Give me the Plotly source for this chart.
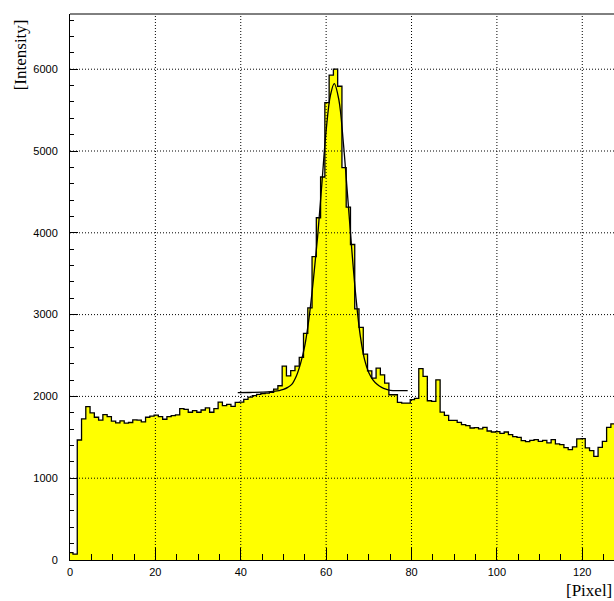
import numpy as np
import plotly.graph_objects as go

# ---- data ----
bin_first_edge = -0.3
bin_width = 1.0
counts = [
    89, 73, 1467, 1725, 1875, 1798, 1745, 1709, 1778, 1754,
    1697, 1677, 1701, 1673, 1681, 1713, 1709, 1689, 1745, 1758,
    1770, 1754, 1721, 1754, 1766, 1774, 1851, 1842, 1806, 1826,
    1806, 1834, 1859, 1806, 1851, 1931, 1887, 1903, 1879, 1927,
    1931, 1964, 1990, 2010, 2025, 2035, 2040, 2050, 2090, 2130,
    2370, 2250, 2315, 2370, 2478, 2771, 3082, 3710, 4184, 4682,
    5592, 5927, 6000, 5792, 4796, 4314, 3857, 3069, 2845, 2518,
    2313, 2224, 2345, 2264, 2163, 2020, 2020, 1927, 1919, 1919,
    1960, 1975, 2340, 2244, 1947, 1940, 2203, 1809, 1768, 1707,
    1707, 1683, 1654, 1642, 1614, 1618, 1602, 1622, 1577, 1565,
    1569, 1549, 1565, 1532, 1508, 1500, 1459, 1447, 1463, 1471,
    1451, 1463, 1431, 1471, 1419, 1410, 1374, 1350, 1382, 1480,
    1484, 1370, 1337, 1268, 1378, 1451, 1622, 1663,
]

fit_x = [39.3, 42, 45, 47, 49, 50, 51, 52, 53, 54, 55, 56, 57, 58, 59, 60, 61,
         61.9, 63, 64, 65, 66, 67, 68, 69, 70, 71, 72, 73, 74, 75, 77, 79.1]
fit_y = [2045, 2048, 2052, 2058, 2072, 2085, 2110, 2150, 2245, 2400, 2620, 2960,
         3420, 3950, 4600, 5250, 5680, 5825, 5620, 5120, 4470, 3800, 3200, 2740,
         2450, 2290, 2200, 2145, 2110, 2088, 2075, 2070, 2070]

x_ticks = [0, 20, 40, 60, 80, 100, 120]
y_ticks = [0, 1000, 2000, 3000, 4000, 5000, 6000]
x_title = "[Pixel]"
y_title = "[Intensity]"

# ---- build step outline ----
edges = bin_first_edge + bin_width * np.arange(len(counts) + 1)
step_x = list(edges)
step_y = list(counts) + [counts[-1]]

fig = go.Figure()
fig.add_trace(go.Scatter(
    x=step_x, y=step_y, mode="lines", line_shape="hv",
    line=dict(color="black", width=1.3),
    fill="tozeroy", fillcolor="#ffff00", hoverinfo="skip", showlegend=False,
))
fig.add_trace(go.Scatter(
    x=fit_x, y=fit_y, mode="lines", line_shape="spline",
    line=dict(color="black", width=1.3, smoothing=1.0),
    hoverinfo="skip", showlegend=False,
))

shapes = []
for xv in x_ticks[1:]:
    shapes.append(dict(type="line", xref="x", yref="paper", x0=xv, x1=xv, y0=0, y1=1,
                       line=dict(color="black", width=1, dash="1px,2px"), layer="above"))
for yv in y_ticks[1:]:
    shapes.append(dict(type="line", xref="paper", yref="y", x0=0, x1=1, y0=yv, y1=yv,
                       line=dict(color="black", width=1, dash="1px,2px"), layer="above"))
shapes.append(dict(type="line", xref="paper", yref="paper", x0=0, x1=1, y0=1, y1=1,
                   line=dict(color="black", width=1), layer="above"))

tickfont = dict(family="Liberation Sans, Arial, sans-serif", size=11, color="black")
fig.update_layout(
    width=614, height=601,
    margin=dict(l=70, r=0, t=14, b=41),
    paper_bgcolor="white", plot_bgcolor="white",
    shapes=shapes,
    xaxis=dict(range=[0, 127.43], tickvals=x_ticks, ticks="inside", ticklen=12,
               tickwidth=1, tickcolor="black", showline=True, linecolor="black",
               linewidth=1, showgrid=False, zeroline=False, tickfont=tickfont,
               ticklabelstandoff=2, layer="above traces",
               minor=dict(dtick=5, tick0=0, ticks="inside", ticklen=6,
                          tickcolor="black", tickwidth=1, showgrid=False)),
    yaxis=dict(range=[0, 6675], tickvals=y_ticks, ticks="inside", ticklen=8,
               tickwidth=1, tickcolor="black", showline=True, linecolor="black",
               linewidth=1, showgrid=False, zeroline=False, tickfont=tickfont,
               ticklabelstandoff=9, layer="above traces",
               minor=dict(dtick=200, tick0=0, ticks="inside", ticklen=4,
                          tickcolor="black", tickwidth=1, showgrid=False)),
    annotations=[
        dict(text=x_title, xref="paper", yref="paper", x=1, y=-0.055,
             xanchor="right", yanchor="middle", showarrow=False,
             font=dict(family="Liberation Serif, Times New Roman, serif", size=17, color="black")),
        dict(text=y_title, xref="paper", yref="paper", x=-0.0919, y=0.993,
             xanchor="center", yanchor="top", textangle=-90, showarrow=False,
             font=dict(family="Liberation Serif, Times New Roman, serif", size=17, color="black")),
    ],
)
fig.write_html("out.html")
